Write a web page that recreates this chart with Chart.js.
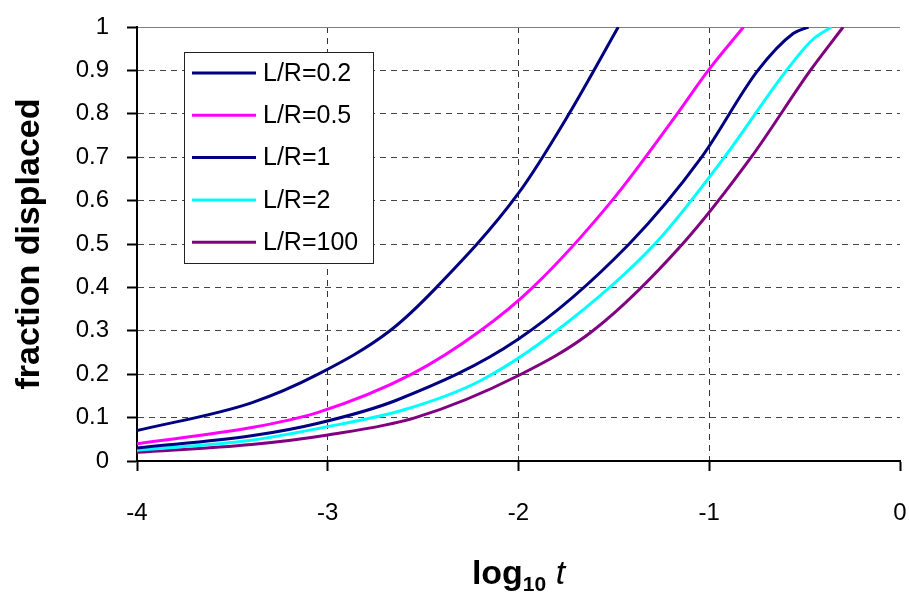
<!DOCTYPE html>
<html>
<head>
<meta charset="utf-8">
<script src="https://cdn.jsdelivr.net/npm/chart.js@4.4.0/dist/chart.umd.min.js"></script>
<style>
  html, body { margin: 0; padding: 0; background: #fff; }
</style>
</head>
<body>
<canvas id="graficoFracao" width="909" height="593"></canvas>
<script>
// values (x = log10 t, y = fraction displaced)
var logT_02 = [-4, -3.4, -3.05, -2.674, -2.43, -2, -1.735, -1.477];
var frac_02 = [0.07, 0.134, 0.2, 0.3, 0.4, 0.617, 0.8, 1];

var logT_05 = [-4, -3.4, -3.05, -2.56, -2.2, -1.925, -1.51, -1.168, -1.005, -0.82];
var frac_05 = [0.04, 0.077, 0.112, 0.2, 0.3, 0.4, 0.6, 0.8, 0.9, 1];

var logT_1 = [-4, -3.4, -3.05, -2.64, -2, -1.42, -1.04, -0.745, -0.56, -0.48];
var frac_1 = [0.03, 0.058, 0.087, 0.14, 0.281, 0.5, 0.7, 0.9, 0.985, 1];

var logT_2 = [-4, -3.4, -3.05, -2.6, -2.2, -1.8, -1.285, -0.92, -0.595, -0.46, -0.36];
var frac_2 = [0.025, 0.048, 0.075, 0.118, 0.185, 0.3, 0.5, 0.7, 0.9, 0.97, 1];

var logT_100 = [-4, -3.4, -3, -2.54, -2, -1.61, -1.14, -0.78, -0.47, -0.298];
var frac_100 = [0.02, 0.038, 0.06, 0.1, 0.197, 0.3, 0.5, 0.7, 0.9, 1];

var seriesNames = ['L/R=0.2', 'L/R=0.5', 'L/R=1', 'L/R=2', 'L/R=100'];
var seriesColors = ['#000080', '#FF00FF', '#000080', '#00FFFF', '#800080'];
var seriesX = [logT_02, logT_05, logT_1, logT_2, logT_100];
var seriesY = [frac_02, frac_05, frac_1, frac_2, frac_100];

var xTickValues = [-4, -3, -2, -1, 0];
var yTickValues = [0, 0.1, 0.2, 0.3, 0.4, 0.5, 0.6, 0.7, 0.8, 0.9, 1];

var yTitle = 'fraction displaced';
var FONT = "'Liberation Sans', Arial, sans-serif";

var datasets = seriesNames.map(function (name, i) {
    return {
        label: name,
        data: seriesX[i].map(function (x, j) { return { x: x, y: seriesY[i][j] }; }),
        borderColor: seriesColors[i],
        backgroundColor: seriesColors[i],
        borderWidth: 3,
        pointRadius: 0,
        cubicInterpolationMode: 'monotone',
        fill: false
    };
});

// legend inside the plot, boxed, like the Excel one
var boxLegend = {
    id: 'boxLegend',
    afterDatasetsDraw: function (chart) {
        var c = chart.ctx, a = chart.chartArea;
        var left = a.left + 47, top = a.top + 25, w = 189, h = 211;
        c.save();
        c.fillStyle = '#fff';
        c.fillRect(left, top, w, h);
        c.strokeStyle = '#222';
        c.lineWidth = 1;
        c.strokeRect(left + 0.5, top + 0.5, w, h);
        c.font = '25px ' + FONT;
        c.textBaseline = 'middle';
        chart.data.datasets.forEach(function (ds, i) {
            var y = top + 21 + i * 42.3;
            c.strokeStyle = ds.borderColor;
            c.lineWidth = 3;
            c.beginPath();
            c.moveTo(left + 8, y);
            c.lineTo(left + 72, y);
            c.stroke();
            c.fillStyle = '#000';
            c.fillText(ds.label, left + 79, y + 1);
        });
        c.restore();
    }
};

// x title with subscript and italic t
var xTitle = {
    id: 'xTitle',
    afterDraw: function (chart) {
        var c = chart.ctx, a = chart.chartArea;
        var f1 = 'bold 34px ' + FONT, f2 = 'bold 21px ' + FONT, f3 = 'italic 34px ' + FONT;
        c.save();
        c.fillStyle = '#000';
        c.textBaseline = 'alphabetic';
        c.font = f1; var w1 = c.measureText('log').width;
        c.font = f2; var w2 = c.measureText('10').width;
        c.font = f3; var w3 = c.measureText(' t').width;
        var x = (a.left + a.right) / 2 - (w1 + w2 + w3) / 2;
        var base = 584;
        c.font = f1; c.fillText('log', x, base);
        c.font = f2; c.fillText('10', x + w1, base + 7);
        c.font = f3; c.fillText(' t', x + w1 + w2, base);
        c.restore();
    }
};

var ctx = document.getElementById('graficoFracao').getContext('2d');
var grafico = new Chart(ctx, {
    type: 'line',
    data: { datasets: datasets },
    plugins: [boxLegend, xTitle],
    options: {
        responsive: false,
        animation: false,
        devicePixelRatio: 1,
        layout: { padding: { left: 0, right: 9, top: 27, bottom: 0 } },
        plugins: {
            legend: { display: false },
            tooltip: { enabled: false }
        },
        scales: {
            x: {
                type: 'linear',
                min: -4,
                max: 0,
                afterBuildTicks: function (scale) {
                    scale.ticks = xTickValues.map(function (v) { return { value: v }; });
                },
                afterFit: function (scale) {
                    scale.height = 132;
                    scale.paddingLeft = 0;
                    scale.paddingRight = 0;
                },
                ticks: {
                    color: '#000',
                    padding: 28,
                    maxRotation: 0,
                    font: { family: FONT, size: 24 }
                },
                grid: {
                    color: function (c) {
                        var v = c.tick ? c.tick.value : null;
                        return (v === -4 || v === 0) ? 'rgba(0,0,0,0)' : '#333';
                    },
                    lineWidth: 1,
                    tickColor: '#000',
                    tickWidth: 2,
                    tickLength: 10,
                    tickBorderDash: []
                },
                border: { display: true, color: '#000', width: 2, dash: [6, 5] }
            },
            y: {
                min: 0,
                max: 1,
                afterBuildTicks: function (scale) {
                    scale.ticks = yTickValues.map(function (v) { return { value: v }; });
                },
                afterFit: function (scale) {
                    scale.width = 137;
                    scale.paddingTop = 0;
                    scale.paddingBottom = 0;
                },
                ticks: {
                    color: '#000',
                    padding: 18,
                    font: { family: FONT, size: 24 },
                    callback: function (value) {
                        return String(Math.round(value * 10) / 10);
                    }
                },
                grid: {
                    color: function (c) {
                        var v = c.tick ? c.tick.value : null;
                        if (v === 0) return 'rgba(0,0,0,0)';
                        return v === 1 ? '#808080' : '#444';
                    },
                    lineWidth: 1,
                    tickColor: '#000',
                    tickWidth: 2,
                    tickLength: 10,
                    tickBorderDash: []
                },
                border: {
                    display: true,
                    color: '#000',
                    width: 2,
                    dash: function (c) {
                        return (c.tick && c.tick.value === 1) ? [] : [6, 5];
                    }
                },
                title: {
                    display: true,
                    text: yTitle,
                    color: '#000',
                    font: { family: FONT, size: 34, weight: 'bold' },
                    padding: { top: 9, bottom: 0 }
                }
            }
        }
    }
});
</script>
</body>
</html>
